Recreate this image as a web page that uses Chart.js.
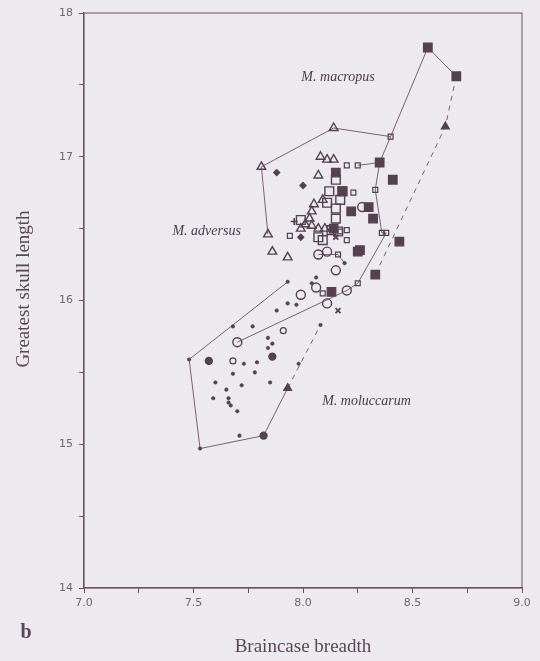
<!DOCTYPE html>
<html>
<head>
<meta charset="utf-8">
<script src="https://cdn.jsdelivr.net/npm/chart.js@4"></script>
<style>
  html, body { margin: 0; padding: 0; background: #edeaef; }
  canvas { display: block; }
</style>
</head>
<body>
<canvas id="c" width="540" height="661"></canvas>
<script>
// ============ Data (braincase breadth, greatest skull length) ============
const openTriangles = [
  [8.14,17.20],[7.81,16.93],[8.08,17.00],[8.11,16.98],[8.14,16.98],[8.07,16.87],
  [8.09,16.70],[8.05,16.67],[8.04,16.62],[8.01,16.53],[8.04,16.52],[8.07,16.50],
  [8.10,16.50],[7.99,16.50],[7.84,16.46],[7.86,16.34],[7.93,16.30],[8.03,16.57]
];
const filledSquares = [
  [8.57,17.76],[8.70,17.56],[8.35,16.96],[8.41,16.84],[8.44,16.41],[8.25,16.34],
  [8.26,16.35],[8.33,16.18],[8.30,16.65],[8.32,16.57],[8.22,16.62],[8.15,16.89],
  [8.18,16.76],[8.14,16.50],[8.13,16.06]
];
const filledTriangles = [[8.65,17.21],[7.93,15.39]];
const smallOpenSquares = [
  [8.40,17.14],[8.33,16.77],[8.36,16.47],[8.38,16.47],[8.25,16.12],[8.20,16.94],
  [8.25,16.94],[8.23,16.75],[8.20,16.49],[8.20,16.42],[7.94,16.45],[8.16,16.32],
  [8.09,16.05],[8.17,16.48]
];
const openSquares = [
  [8.15,16.84],[8.12,16.76],[8.18,16.76],[8.11,16.68],[8.15,16.64],[8.15,16.57],
  [8.07,16.44],[8.13,16.49],[8.17,16.70],[8.09,16.42],[7.99,16.56],[8.16,16.48]
];
const openCircles = [
  [8.27,16.65],[8.07,16.32],[8.11,16.34],[8.15,16.21],[8.20,16.07],[8.11,15.98],
  [7.99,16.04],[8.06,16.09],[7.70,15.71]
];
const smallOpenCircles = [[7.91,15.79],[7.68,15.58]];
const crosses = [[8.15,16.44],[8.16,15.93]];
const pluses = [[7.96,16.55]];
const diamonds = [[8.00,16.80],[7.88,16.89],[7.99,16.44]];
const dots = [
  [8.19,16.26],[8.06,16.16],[7.93,16.13],[7.97,15.97],[7.93,15.98],[8.04,16.12],
  [7.88,15.93],[8.08,15.83],[7.98,15.56],[7.77,15.82],[7.68,15.82],[7.84,15.74],
  [7.86,15.70],[7.84,15.67],[7.73,15.56],[7.79,15.57],[7.48,15.59],[7.68,15.49],
  [7.78,15.50],[7.60,15.43],[7.72,15.41],[7.85,15.43],[7.65,15.38],[7.59,15.32],
  [7.66,15.32],[7.66,15.29],[7.67,15.27],[7.70,15.23],[7.71,15.06],[7.53,14.97]
];
const filledCircles = [[7.57,15.58],[7.86,15.61],[7.82,15.06]];

// hull outlines
const macropusHull = [[8.70,17.56],[8.57,17.76],[8.40,17.14],[8.35,16.96],[8.33,16.77],
  [8.36,16.47],[8.38,16.47],[8.25,16.12],[8.20,16.07],[7.70,15.71]];
const macropusDashed = [[8.70,17.56],[8.65,17.21],[8.33,16.18]];
const adversusHull = [[8.40,17.14],[8.14,17.20],[7.81,16.93],[7.84,16.46]];
const sideLink = [[8.25,16.94],[8.35,16.96]];
const circleLink = [[8.07,16.32],[8.16,16.32],[8.19,16.26]];
const moluccarumHull = [[7.93,16.13],[7.48,15.59],[7.53,14.97],[7.82,15.06],[7.93,15.39]];
const moluccarumDashed = [[7.93,15.39],[8.08,15.83]];

const xTicks = [7.0, 7.5, 8.0, 8.5, 9.0];
const yTicks = [14, 15, 16, 17, 18];

const speciesLabels = [
  { text: "M. macropus",   at: [8.16, 17.55] },
  { text: "M. adversus",   at: [7.56, 16.48] },
  { text: "M. moluccarum", at: [8.29, 15.30] }
];

// ============ Style ============
const INK = "#55404e";
const AXIS = "#6e4e60";
const TICK_TXT = "#6f6671";
const BG = "#edeaef";

const pts = (arr) => arr.map(([x, y]) => ({ x, y }));

function marks(data, style, radius, filled, bw){
  return {
    type: "scatter", data: pts(data),
    pointStyle: style, pointRadius: radius, pointHoverRadius: radius,
    backgroundColor: filled ? INK : "transparent",
    borderColor: INK, borderWidth: bw || 1.3
  };
}
function hull(data, dashed){
  return {
    type: "scatter", data: pts(data), showLine: true,
    pointRadius: 0, borderColor: "#6a5262", borderWidth: 0.9,
    borderDash: dashed ? [5, 5] : [], backgroundColor: "transparent"
  };
}

const near = (v, list) => list.some(t => Math.abs(t - v) < 1e-6);

// background + frame + free text
const decor = {
  id: "decor",
  beforeDraw(chart){
    const ctx = chart.ctx;
    ctx.save(); ctx.fillStyle = BG; ctx.fillRect(0, 0, chart.width, chart.height); ctx.restore();
  },
  afterDraw(chart){
    const { ctx, chartArea: a, scales } = chart;
    ctx.save();
    ctx.strokeStyle = AXIS; ctx.lineWidth = 1;
    ctx.strokeRect(a.left, a.top, a.right - a.left, a.bottom - a.top);

    ctx.fillStyle = "#4e3b48";
    ctx.font = "italic 14px 'Liberation Serif', serif";
    ctx.textAlign = "center"; ctx.textBaseline = "middle";
    speciesLabels.forEach(l => {
      ctx.fillText(l.text, scales.x.getPixelForValue(l.at[0]), scales.y.getPixelForValue(l.at[1]));
    });

    ctx.fillStyle = "#5a4753";
    ctx.font = "19px 'Liberation Serif', serif";
    ctx.fillText("Braincase breadth", (a.left + a.right) / 2, 647);
    ctx.save();
    ctx.translate(24, 289); ctx.rotate(-Math.PI / 2);
    ctx.fillText("Greatest skull length", 0, 0);
    ctx.restore();

    ctx.font = "bold 20px 'Liberation Serif', serif";
    ctx.fillText("b", 26, 633);
    ctx.restore();
  }
};

new Chart(document.getElementById("c"), {
  type: "scatter",
  data: {
    datasets: [
      marks(openTriangles, "triangle", 5, false, 1.4),
      marks(filledSquares, "rect", 6, true),
      marks(filledTriangles, "triangle", 4.5, true),
      marks(smallOpenSquares, "rect", 3.5, false, 1.2),
      marks(openSquares, "rect", 6.2, false, 1.4),
      marks(openCircles, "circle", 4.5, false, 1.4),
      marks(smallOpenCircles, "circle", 3, false, 1.2),
      marks(crosses, "crossRot", 3.5, false, 1.8),
      marks(pluses, "cross", 3.5, false, 1.6),
      marks(diamonds, "rectRot", 3, true),
      marks(dots, "circle", 1.8, true, 0.5),
      marks(filledCircles, "circle", 3.5, true),
      hull(macropusHull), hull(macropusDashed, true), hull(adversusHull),
      hull(sideLink), hull(circleLink), hull(moluccarumHull), hull(moluccarumDashed, true)
    ]
  },
  options: {
    responsive: false, animation: false, devicePixelRatio: 1,
    layout: { padding: { left: 0, right: 18, top: 13, bottom: 0 } },
    plugins: { legend: { display: false }, tooltip: { enabled: false } },
    scales: {
      x: {
        type: "linear", min: 7, max: 9,
        afterFit: (s) => { s.height = 73; },
        ticks: {
          stepSize: 0.25, autoSkip: false, maxRotation: 0, padding: 4,
          color: TICK_TXT, font: { family: "'DejaVu Sans', sans-serif", size: 11 },
          callback: (v) => near(v, xTicks) ? Number(v).toFixed(1) : ""
        },
        grid: { drawOnChartArea: false, tickLength: 5, tickColor: AXIS },
        border: { color: AXIS, width: 1.2 }
      },
      y: {
        type: "linear", min: 14, max: 18,
        afterFit: (s) => { s.width = 84; },
        ticks: {
          stepSize: 0.5, autoSkip: false, padding: 6,
          color: TICK_TXT, font: { family: "'DejaVu Sans', sans-serif", size: 11 },
          callback: (v) => near(v, yTicks) ? String(v) : ""
        },
        grid: { drawOnChartArea: false, tickLength: 5, tickColor: AXIS },
        border: { color: AXIS, width: 1.2 }
      }
    }
  },
  plugins: [decor]
});
</script>
</body>
</html>
